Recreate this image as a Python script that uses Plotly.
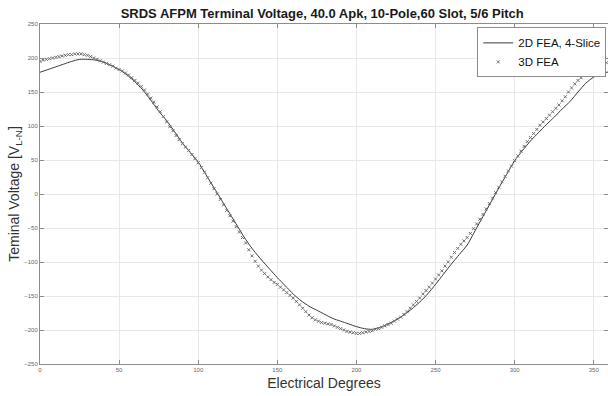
import plotly.graph_objects as go

# 2D FEA (4-slice) terminal voltage, sampled every 5 electrical degrees
deg_2d = list(range(0, 361, 5))
volt_2d = [179, 183, 187, 191, 195, 198, 198, 197, 194, 189,
           183, 175, 165, 153, 138, 122, 108, 92, 75, 61,
           47, 28, 9, -10, -29, -48, -67, -83, -97, -110,
           -123, -135, -147, -157, -165, -171, -177, -183, -187, -191,
           -195, -198, -199, -196, -191, -185, -178, -169, -159, -147,
           -133, -118, -103, -89, -75, -54, -33, -12, 9, 29,
           49, 64, 78, 90, 102, 113, 125, 136, 150, 163,
           172, 177, 180]

# 3D FEA terminal voltage, sampled every 2 electrical degrees
deg_3d = list(range(0, 361, 2))
volt_3d = [195, 197, 198, 199, 200, 201, 202, 203, 204, 205,
           205, 206, 206, 206, 205, 204, 202, 200, 198, 196,
           194, 192, 190, 188, 185, 183, 181, 178, 175, 171,
           167, 163, 158, 153, 147, 141, 135, 128, 121, 114,
           106, 99, 93, 86, 80, 74, 69, 64, 58, 52,
           46, 39, 32, 24, 16, 8, 0, -8, -16, -24,
           -32, -40, -48, -56, -64, -72, -82, -91, -99, -106,
           -112, -117, -122, -126, -130, -133, -137, -141, -145, -149,
           -153, -158, -163, -168, -173, -178, -182, -185, -187, -189,
           -190, -191, -192, -194, -196, -198, -200, -202, -203, -204,
           -205, -205, -204, -203, -202, -201, -199, -198, -196, -194,
           -192, -190, -187, -184, -181, -177, -173, -168, -163, -158,
           -153, -147, -142, -137, -131, -125, -119, -113, -106, -100,
           -93, -86, -80, -74, -69, -64, -58, -51, -44, -37,
           -30, -22, -14, -6, 2, 10, 18, 26, 34, 41,
           49, 56, 63, 70, 77, 83, 89, 95, 101, 106,
           111, 116, 121, 126, 131, 137, 143, 150, 156, 162,
           167, 171, 175, 178, 181, 184, 186, 189, 191, 193,
           195]

x_ticks = [0, 50, 100, 150, 200, 250, 300, 350]
y_ticks = [-250, -200, -150, -100, -50, 0, 50, 100, 150, 200, 250]

FONT = "Liberation Sans, Arial, sans-serif"

fig = go.Figure()
fig.add_trace(go.Scatter(
    x=deg_2d, y=volt_2d, mode="lines", name="2D FEA, 4-Slice",
    line=dict(color="#3a3a3a", width=1, shape="spline", smoothing=0.6),
))
fig.add_trace(go.Scatter(
    x=deg_3d, y=volt_3d, mode="markers", name="3D FEA",
    marker=dict(symbol="x-thin", size=3, color="#6e6e6e",
                line=dict(width=1, color="#6e6e6e")),
))

axis_common = dict(
    showline=True, linecolor="#8c8c8c", linewidth=1, mirror="allticks",
    ticks="inside", ticklen=4, tickcolor="#8c8c8c",
    showgrid=True, gridcolor="#e8e8e8", gridwidth=1,
    zeroline=False,
    tickfont=dict(family=FONT, size=6, color="#666666"),
)

fig.update_layout(
    width=608, height=396,
    margin=dict(l=40, r=0, t=24, b=32),
    paper_bgcolor="white", plot_bgcolor="white",
    font=dict(family=FONT, color="#222222"),
    title=dict(
        text="<b>SRDS AFPM Terminal Voltage, 40.0 Apk, 10-Pole,60 Slot, 5/6 Pitch</b>",
        x=0.53, xanchor="center", y=0.966, yanchor="middle",
        font=dict(family=FONT, size=13, color="#1a1a1a"),
    ),
    xaxis=dict(
        range=[0, 359], tickvals=x_ticks, autorange=False,
        title=dict(text="Electrical Degrees", standoff=5,
                   font=dict(family=FONT, size=14, color="#333333")),
        **axis_common,
    ),
    yaxis=dict(
        range=[-250, 250], tickvals=y_ticks, autorange=False,
        title=dict(text="Teminal Voltage [V<sub>L-N</sub>]", standoff=0,
                   font=dict(family=FONT, size=14, color="#333333")),
        **axis_common,
    ),
    legend=dict(
        x=0.997, xanchor="right", y=0.99, yanchor="top",
        bgcolor="white", bordercolor="#8c8c8c", borderwidth=1,
        font=dict(family=FONT, size=11.5, color="#111111"),
        itemwidth=30, tracegroupgap=0,
    ),
    showlegend=True,
)

fig.write_html("out.html")
